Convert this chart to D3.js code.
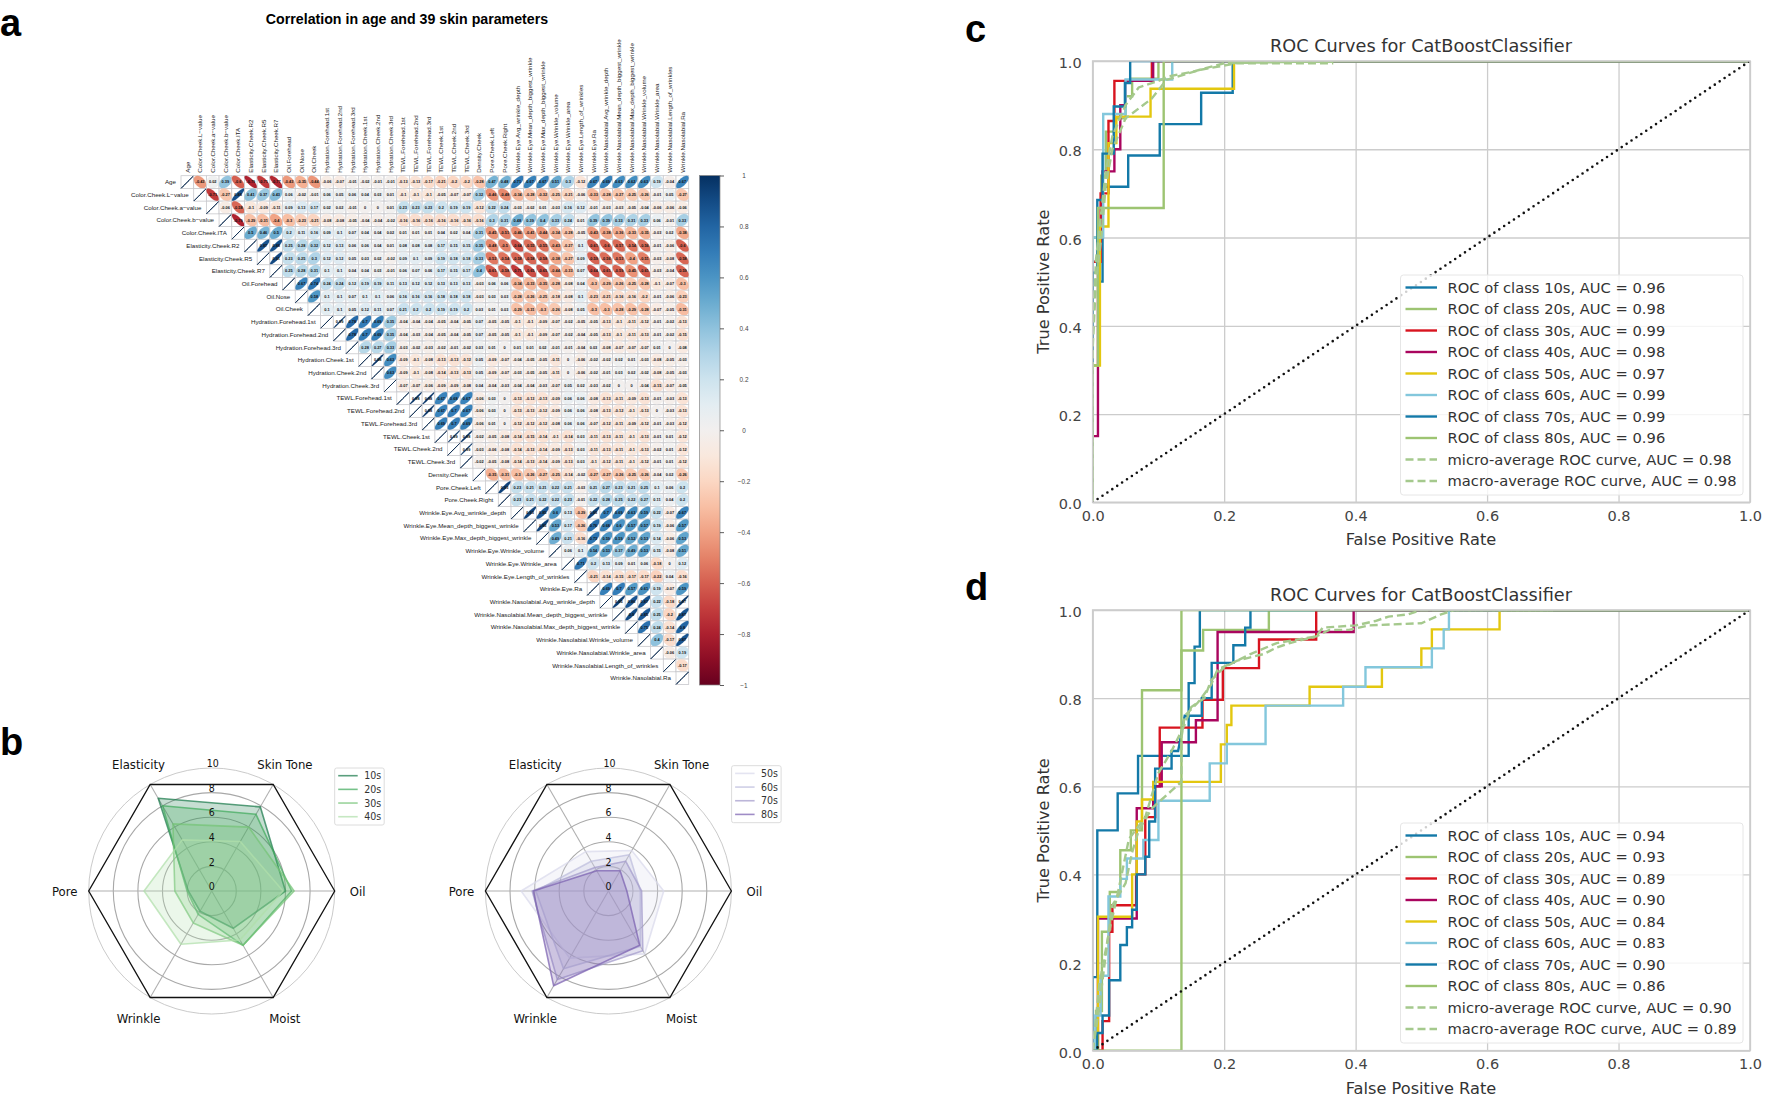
<!DOCTYPE html>
<html><head><meta charset="utf-8">
<script src="https://cdn.jsdelivr.net/npm/d3@7/dist/d3.min.js"></script>
<style>html,body{margin:0;padding:0;background:#fff}svg{display:block}</style>
</head><body><svg id="chart" width="1772" height="1107"></svg>
<script>
// ---------- Panel a: correlation matrix ----------
const corrNames = ["Age","Color.Cheek.L−value","Color.Cheek.a−value","Color.Cheek.b−value","Color.Cheek.ITA","Elasticity.Cheek.R2","Elasticity.Cheek.R5","Elasticity.Cheek.R7","Oil.Forehead","Oil.Nose","Oil.Cheek","Hydration.Forehead.1st","Hydration.Forehead.2nd","Hydration.Forehead.3rd","Hydration.Cheek.1st","Hydration.Cheek.2nd","Hydration.Cheek.3rd","TEWL.Forehead.1st","TEWL.Forehead.2nd","TEWL.Forehead.3rd","TEWL.Cheek.1st","TEWL.Cheek.2nd","TEWL.Cheek.3rd","Density.Cheek","Pore.Cheek.Left","Pore.Cheek.Right","Wrinkle.Eye.Avg_wrinkle_depth","Wrinkle.Eye.Mean_depth_biggest_wrinkle","Wrinkle.Eye.Max_depth_biggest_wrinkle","Wrinkle.Eye.Wrinkle_volume","Wrinkle.Eye.Wrinkle_area","Wrinkle.Eye.Length_of_wrinkles","Wrinkle.Eye.Ra","Wrinkle.Nasolabial.Avg_wrinkle_depth","Wrinkle.Nasolabial.Mean_depth_biggest_wrinkle","Wrinkle.Nasolabial.Max_depth_biggest_wrinkle","Wrinkle.Nasolabial.Wrinkle_volume","Wrinkle.Nasolabial.Wrinkle_area","Wrinkle.Nasolabial.Length_of_wrinkles","Wrinkle.Nasolabial.Ra"];
const corrUpper = [
[-.43,.02,.39,-.6,-.79,-.71,-.77,-.43,-.35,-.44,-.06,-.07,-.01,-.02,-.01,-.01,-.13,-.13,-.17,-.21,-.2,-.2,-.28,.47,.48,.71,.67,.67,.51,.3,-.12,.67,.69,.63,.62,.63,.19,-.04,.67],
[-.71,-.27,.88,.41,.37,.43,.06,-.02,-.01,.06,.05,.06,.04,.03,.01,-.1,-.1,-.1,-.05,-.07,-.07,.32,-.46,-.48,-.34,-.28,-.32,-.25,-.21,-.06,-.33,-.28,-.27,-.25,-.26,-.01,.05,-.27],
[-.06,-.58,-.1,-.09,-.11,.09,.13,.17,.02,.02,-.01,0,0,.01,.23,.23,.23,.2,.19,.19,-.12,.22,.24,-.03,-.02,.01,-.03,.16,.12,-.01,-.03,-.03,-.05,-.04,-.06,-.06,-.06],
[-.79,-.29,-.31,-.4,-.3,-.23,-.21,-.08,-.08,-.05,-.04,-.04,-.02,-.16,-.16,-.16,-.16,-.16,-.16,-.16,.3,.31,.48,.39,.4,.33,.24,.01,.39,.39,.33,.31,.33,.06,-.01,.33],
[.5,.46,.5,.2,.11,.16,.09,.1,.07,.04,.04,.02,.01,.01,.01,.04,.02,.04,.31,-.45,-.51,-.46,-.41,-.44,-.34,-.28,-.05,-.43,-.38,-.36,-.33,-.35,-.03,.02,-.38],
[.87,.88,.25,.28,.32,.12,.13,.06,.06,.04,.01,.08,.08,.08,.17,.15,.15,.35,-.48,-.5,-.64,-.55,-.55,-.43,-.27,.1,-.61,-.6,-.57,-.54,-.56,-.01,-.06,-.6],
[.91,.23,.25,.3,.12,.12,.05,.03,.02,-.02,.09,.1,.09,.19,.18,.18,.33,-.53,-.54,-.58,-.58,-.58,-.38,-.27,.09,-.59,-.56,-.53,-.4,-.51,-.03,-.08,-.58],
[.25,.28,.31,.1,.1,.04,.04,.03,-.01,.06,.07,.06,.17,.15,.17,.4,-.61,-.58,-.71,-.65,-.65,-.44,-.33,.07,-.64,-.61,-.59,-.45,-.61,-.03,-.04,-.59],
[.67,.74,.24,.24,.12,.19,.19,.11,.13,.12,.12,.13,.13,.13,-.03,.06,.06,-.34,-.33,-.35,-.28,-.08,.04,-.3,-.29,-.26,-.25,-.28,-.1,-.07,-.3],
[.58,.1,.1,.07,.1,.1,.06,.16,.16,.16,.18,.18,.18,-.03,.03,.03,-.28,-.26,-.25,-.18,-.08,.1,-.23,-.21,-.16,-.16,-.2,-.01,-.06,-.23],
[.1,.1,.05,.12,.11,.07,.21,.2,.2,.19,.19,.2,.03,.01,.03,-.29,-.31,-.3,-.26,-.08,.05,-.3,-.3,-.28,-.29,-.28,-.07,-.05,-.31],
[.99,.78,.7,.69,.35,-.04,-.04,-.04,-.05,-.04,-.05,.07,-.05,-.05,-.1,-.1,-.09,-.07,-.02,-.05,-.05,-.13,-.1,-.11,-.12,-.01,-.02,-.13],
[.78,.7,.69,.35,-.04,-.03,-.04,-.05,-.04,-.05,.07,-.05,-.05,-.1,-.1,-.09,-.07,-.02,-.04,-.05,-.13,-.1,-.11,-.13,-.01,-.02,-.15],
[.28,.27,.33,-.03,-.02,-.03,-.02,-.01,-.02,.03,.01,0,.01,.01,.02,-.01,-.01,-.04,.03,-.08,-.07,-.07,-.07,.01,0,-.08],
[.98,.63,-.09,-.1,-.08,-.13,-.13,-.12,.05,-.09,-.07,-.04,-.05,-.05,-.11,0,-.06,-.02,-.02,.02,.01,-.03,-.08,-.05,-.03],
[.63,-.09,-.1,-.08,-.14,-.13,-.13,.05,-.09,-.07,-.03,-.05,-.05,-.11,0,-.06,-.02,-.01,.03,.02,-.02,-.08,-.05,-.03],
[-.07,-.07,-.06,-.09,-.09,-.08,.04,-.04,-.03,-.04,-.04,-.03,-.07,.05,.02,-.03,-.02,0,0,-.04,-.15,-.07,-.05],
[.98,.98,.67,.68,.67,-.06,.03,0,-.13,-.13,-.13,-.09,.06,.06,-.08,-.13,-.11,-.09,-.13,-.01,-.03,-.13],
[.98,.67,.7,.67,-.06,.03,0,-.13,-.13,-.12,-.09,.06,.06,-.08,-.13,-.12,-.1,-.13,0,-.03,-.13],
[.69,.7,.69,-.06,.01,0,-.12,-.12,-.12,-.08,.06,.06,-.07,-.12,-.11,-.09,-.12,-.01,-.03,-.12],
[.99,.98,-.02,-.05,-.08,-.14,-.15,-.14,-.1,-.14,.03,-.11,-.13,-.11,-.1,-.13,-.01,.01,-.12],
[.99,-.03,-.06,-.08,-.14,-.13,-.14,-.09,-.13,.03,-.11,-.13,-.11,-.1,-.13,-.02,.01,-.12],
[-.02,-.05,-.08,-.14,-.13,-.14,-.09,-.13,.03,-.1,-.12,-.11,-.1,-.12,-.01,.01,-.12],
[-.35,-.31,-.3,-.26,-.27,-.25,-.14,-.02,-.27,-.27,-.26,-.25,-.26,-.04,.02,-.26],
[.93,.23,.21,.21,.22,.21,-.03,.21,.27,.23,.21,.25,.1,.06,.2],
[.23,.21,.22,.22,.23,-.01,.22,.28,.25,.22,.27,.11,.04,.2],
[.93,.85,.6,.13,-.29,.93,.7,.69,.63,.59,.22,-.07,.67],
[.93,.53,.17,-.26,.76,.68,.6,.57,.57,.19,-.06,.57],
[.49,.21,-.16,.73,.59,.59,.52,.53,.14,-.06,.53],
[.06,.1,.54,.53,.37,.49,.53,.15,-.08,.51],
[.71,.2,.13,.09,.01,.06,-.18,0,.12],
[-.21,-.14,-.15,-.17,-.17,-.22,.04,-.16],
[.69,.7,.57,.61,.19,-.07,.59],
[.95,.86,.87,.22,-.18,.97],
[.9,.85,.25,-.2,.87],
[.75,.24,-.14,.8],
[.4,-.17,.87],
[-.06,.19],
[-.17],
[]
];
const cbarTicks = [1,.8,.6,.4,.2,0,-.2,-.4,-.6,-.8,-1];

// ---------- Panel b: radar ----------
const radarAxes = ["Oil","Skin Tone","Elasticity","Pore","Wrinkle","Moist"];
const radarTicks = [0,2,4,6,8,10];
const radar10s = [6.0,7.9,8.7,1.9,1.9,3.5];
const radar20s = [6.5,7.2,8.0,2.0,2.2,5.1];
const radar30s = [6.7,6.0,6.3,3.0,3.0,5.1];
const radar40s = [5.8,4.65,4.8,5.5,5.0,4.6];
const radar50s = [4.5,3.8,3.7,7.1,6.3,5.9];
const radar60s = [2.6,3.4,2.8,5.9,7.3,5.2];
const radar70s = [2.7,2.8,2.2,6.2,8.3,5.6];
const radar80s = [1.5,1.9,1.9,6.1,8.9,5.1];
const radarLeftNames = ["10s","20s","30s","40s"];
const radarRightNames = ["50s","60s","70s","80s"];

// ---------- Panel c: ROC ----------
const c10s = [[0,0],[0,.5],[.015,.5],[.015,.715],[.054,.715],[.054,.786],[.102,.786],[.102,.857],[.165,.857],[.165,.928],[.213,.928],[.213,1],[1,1]];
const c20s = [[0,0],[0,.6],[.013,.6],[.013,.74],[.02,.74],[.02,.84],[.035,.84],[.035,.87],[.05,.87],[.05,.92],[.06,.92],[.06,.96],[.10,.96],[.10,1],[1,1]];
const c30s = [[0,0],[0,.545],[.012,.545],[.012,.70],[.024,.70],[.024,.864],[.033,.864],[.033,.955],[.09,.955],[.09,1],[1,1]];
const c40s = [[0,0],[0,.15],[.008,.15],[.008,.6],[.015,.6],[.015,.75],[.033,.75],[.033,.80],[.042,.80],[.042,.90],[.05,.90],[.05,.955],[.092,.955],[.092,1],[1,1]];
const c50s = [[0,0],[0,.31],[.011,.31],[.011,.625],[.024,.625],[.024,.814],[.036,.814],[.036,.874],[.088,.874],[.088,.937],[.215,.937],[.215,1],[1,1]];
const c60s = [[0,0],[0,.6],[.016,.6],[.016,.88],[.05,.88],[.05,.958],[.121,.958],[.121,1],[1,1]];
const c70s = [[0,0],[0,.52],[.007,.52],[.007,.685],[.015,.685],[.015,.79],[.032,.79],[.032,.897],[.049,.897],[.049,.95],[.057,.95],[.057,1],[1,1]];
const c80s = [[0,0],[0,.31],[.008,.31],[.008,.667],[.108,.667],[.108,1],[1,1]];
const cMicro = [[0,0],[0,.4],[.005,.55],[.02,.75],[.03,.83],[.05,.9],[.07,.94],[.10,.955],[.115,.965],[.15,.975],[.2,.995],[.3,.998],[.37,.998]];
const cMacro = [[0,0],[0,.35],[.005,.5],[.013,.6],[.02,.72],[.03,.8],[.05,.87],[.09,.915],[.112,.957],[.163,.98],[.22,.995],[.366,.995]];
const aucC = [.96,.98,.99,.98,.97,.99,.99,.96,.98,.98];

// ---------- Panel d: ROC ----------
const d10s = [[0,0],[0,.167],[.007,.167],[.007,.5],[.038,.5],[.038,.584],[.069,.584],[.069,.669],[.146,.669],[.146,.834],[.155,.834],[.155,.917],[.163,.917],[.163,1],[1,1]];
const d20s = [[0,0],[.005,0],[.005,.09],[.014,.09],[.014,.27],[.026,.27],[.026,.36],[.042,.36],[.042,.455],[.058,.455],[.058,.5],[.075,.5],[.075,.818],[.135,.818],[.135,.908],[.168,.908],[.168,.955],[.268,.955],[.268,1],[1,1]];
const d30s = [[0,0],[.015,0],[.015,.067],[.025,.067],[.025,.27],[.03,.27],[.03,.33],[.066,.33],[.066,.40],[.08,.40],[.08,.53],[.095,.53],[.095,.60],[.102,.60],[.102,.733],[.167,.733],[.167,.796],[.198,.796],[.198,.868],[.253,.868],[.253,.933],[.34,.933],[.34,1],[1,1]];
const d40s = [[0,0],[.008,0],[.008,.07],[.008,.30],[.067,.30],[.067,.55],[.092,.55],[.092,.60],[.105,.60],[.105,.70],[.157,.70],[.157,.75],[.19,.75],[.19,.95],[.397,.95],[.397,1],[1,1]];
const d50s = [[0,0],[.008,0],[.008,.304],[.06,.304],[.06,.40],[.067,.40],[.067,.52],[.075,.52],[.075,.57],[.092,.57],[.092,.61],[.195,.61],[.195,.695],[.204,.695],[.204,.739],[.211,.739],[.211,.783],[.33,.783],[.33,.826],[.44,.826],[.44,.87],[.50,.87],[.50,.913],[.516,.913],[.516,.956],[.619,.956],[.619,1],[1,1]];
const d60s = [[0,0],[.004,0],[.004,.08],[.012,.08],[.012,.17],[.024,.17],[.024,.35],[.042,.35],[.042,.39],[.052,.39],[.052,.436],[.077,.436],[.077,.478],[.10,.478],[.10,.567],[.178,.567],[.178,.652],[.204,.652],[.204,.696],[.263,.696],[.263,.783],[.381,.783],[.381,.826],[.415,.826],[.415,.87],[.516,.87],[.516,.913],[.534,.913],[.534,.956],[.542,.956],[.542,1],[1,1]];
const d70s = [[0,0],[.007,0],[.007,.04],[.015,.04],[.015,.08],[.025,.08],[.025,.16],[.042,.16],[.042,.24],[.052,.24],[.052,.28],[.06,.28],[.06,.32],[.067,.32],[.067,.40],[.08,.40],[.08,.44],[.086,.44],[.086,.52],[.095,.52],[.095,.64],[.12,.64],[.12,.68],[.13,.68],[.14,.76],[.166,.76],[.166,.80],[.181,.80],[.181,.88],[.214,.88],[.214,.92],[.232,.92],[.232,.96],[.24,.96],[.24,1],[1,1]];
const d80s = [[0,0],[.135,0],[.135,1],[1,1]];
const dMicro = [[0,0],[.01,.15],[.025,.27],[.04,.37],[.055,.48],[.08,.53],[.1,.63],[.12,.68],[.14,.74],[.15,.78],[.17,.80],[.18,.84],[.2,.87],[.24,.90],[.28,.925],[.34,.94],[.35,.96],[.4,.965],[.43,.975],[.45,.985],[.48,.99],[.5,1],[.7,1]];
const dMacro = [[0,0],[.01,.1],[.02,.22],[.03,.33],[.05,.38],[.06,.45],[.07,.5],[.09,.55],[.105,.57],[.12,.59],[.135,.61],[.135,.71],[.14,.76],[.16,.79],[.18,.83],[.19,.865],[.22,.885],[.26,.90],[.28,.915],[.3,.925],[.34,.94],[.36,.955],[.39,.955],[.42,.965],[.5,.97],[.53,.99],[.55,1],[.7,1]];
const aucD = [.94,.93,.89,.90,.84,.83,.90,.86,.90,.89];
const rocClasses = ["10s","20s","30s","40s","50s","60s","70s","80s"];
const rocTicks = [0,.2,.4,.6,.8,1];

// ---------- drawing ----------
const svg = d3.select("#chart");
const defs = svg.append("defs");
const SANS = "'Liberation Sans', Arial, sans-serif";
const DJ = "'DejaVu Sans', sans-serif";
const DJC = "'DejaVu Sans Condensed', 'DejaVu Sans', sans-serif";

function panelLetter(t,x,y){ svg.append("text").attr("x",x).attr("y",y).text(t).attr("font-family",SANS).attr("font-weight",700).attr("font-size",38).attr("fill","#000"); }
panelLetter("a",0,36); panelLetter("b",0,755); panelLetter("c",965,42); panelLetter("d",965,600);

svg.append("text").attr("x",407).attr("y",24).attr("text-anchor","middle").text("Correlation in age and 39 skin parameters")
  .attr("font-family",SANS).attr("font-weight",700).attr("font-size",14.2).attr("fill","#000");

// Heatmap
(function(){
  const n = corrNames.length;
  const xs = d3.scaleLinear().domain([0,n]).range([181,688.7]);
  const ys = d3.scaleLinear().domain([0,n]).range([175.7,684.5]);
  const g = svg.append("g");
  const color = v => d3.interpolateRdBu((v+1)/2);
  const ts = d3.range(0,6.2832,0.2);
  const cells = [];
  corrNames.forEach((nm,i)=>{
    cells.push({i,j:i,v:1,diag:true});
    corrUpper[i].forEach((v,k)=>cells.push({i,j:i+k+1,v}));
    g.append("text").attr("x",xs(i)-5).attr("y",ys(i+.5)).attr("dy","0.35em").attr("text-anchor","end")
      .text(nm).attr("font-family",SANS).attr("font-size",6.2).attr("fill","#222");
    g.append("text").attr("transform",`translate(${xs(i+.5)},${ys(0)-3}) rotate(-90)`).attr("dy","0.35em")
      .text(nm).attr("font-family",SANS).attr("font-size",6.2).attr("fill","#222");
  });
  const w = xs(1)-xs(0), h = ys(1)-ys(0);
  const cg = g.selectAll("g.c").data(cells).join("g").attr("transform",d=>`translate(${xs(d.j)},${ys(d.i)})`);
  cg.append("rect").attr("width",w).attr("height",h).attr("fill","#fff").attr("stroke","#c8c8cc").attr("stroke-width",.8);
  cg.append("path").attr("d",d=>{
      const dd = Math.acos(Math.min(1,Math.max(-1,d.v)));
      const pts = ts.map(t=>[Math.cos(t+dd/2)*w*.49+w/2, -Math.cos(t-dd/2)*h*.49+h/2]);
      return d3.line().curve(d3.curveLinearClosed)(pts);
    }).attr("fill",d=>d.diag?"#0b2a4f":color(d.v))
      .attr("stroke",d=>d.diag?"#0b2a4f":color(d.v)).attr("stroke-width",d=>d.diag?.9:.2);
  cg.filter(d=>!d.diag).append("text").attr("x",w/2).attr("y",h/2).attr("dy","0.35em").attr("text-anchor","middle")
    .text(d=>String(d.v)).attr("font-family",SANS).attr("font-size",3.9).attr("font-weight",700).attr("fill","#111");

  // colour bar
  const cy = d3.scaleLinear().domain([1,-1]).range([175.5,685]);
  const lg = defs.append("linearGradient").attr("id","cb").attr("x1",0).attr("x2",0).attr("y1",0).attr("y2",1);
  d3.range(0,1.001,.05).forEach(t=>lg.append("stop").attr("offset",t).attr("stop-color",d3.interpolateRdBu(1-t)));
  svg.append("rect").attr("x",699.5).attr("y",cy(1)).attr("width",20.5).attr("height",cy(-1)-cy(1)).attr("fill","url(#cb)").attr("stroke","#888").attr("stroke-width",.7);
  const ax = svg.append("g").attr("transform","translate(720,0)").call(d3.axisRight(cy).tickValues(cbarTicks).tickSize(4).tickFormat(d=>d===0?"0":String(d).replace("-","−")));
  ax.select(".domain").remove();
  ax.selectAll("line").attr("stroke","#333").attr("stroke-width",.8);
  ax.selectAll("text").attr("x",24).attr("text-anchor","middle").attr("font-family",SANS).attr("font-size",6.4).attr("fill","#444");
})();

// Radar
function radar(cx,cy,series,names,colors,lx,ly,lh){
  const g = svg.append("g").attr("transform",`translate(${cx},${cy})`);
  const r = d3.scaleLinear().domain([0,10]).range([0,123]);
  const ang = d3.scaleLinear().domain([0,radarAxes.length]).range([0,2*Math.PI]);
  const pt = (v,i)=>[r(v)*Math.cos(ang(i)), -r(v)*Math.sin(ang(i))];
  g.selectAll("circle").data(radarTicks.slice(1)).join("circle").attr("r",d=>r(d)).attr("fill","none")
    .attr("stroke",d=>d==10?"#c4c4c4":"#a8a8a8").attr("stroke-width",d=>d==10?.9:1.1);
  radarAxes.forEach((a,i)=>{ const p=pt(10,i);
    g.append("line").attr("x2",p[0]).attr("y2",p[1]).attr("stroke","#b0b0b0").attr("stroke-width",1.1); });
  const closed = d3.line().curve(d3.curveLinearClosed);
  series.forEach((vals,k)=>{
    g.append("path").attr("d",closed(vals.map(pt))).attr("fill",colors[k]).attr("fill-opacity",.25)
      .attr("stroke",colors[k]).attr("stroke-opacity",.72).attr("stroke-width",1.6).attr("stroke-linejoin","round");
  });
  g.append("path").attr("d",closed(radarAxes.map((a,i)=>pt(10,i)))).attr("fill","none").attr("stroke","#111").attr("stroke-width",1.3);
  radarAxes.forEach((a,i)=>{
    const off = (i==0?[r(10)+23,0]:i==3?[-r(10)-24,0]:null);
    const p = pt(10,i);
    const x = off?off[0]:p[0]*1.19, y = off?0:(p[1]<0?-127:127);
    g.append("text").attr("x",x).attr("y",y).attr("dy","0.35em").attr("text-anchor","middle").text(a)
      .attr("font-family",DJC).attr("font-size",13).attr("fill","#111");
  });
  radarTicks.forEach(t=>g.append("text").attr("x",t==10?1:0).attr("y",-r(t)-4.5).attr("dy","0.35em").attr("text-anchor","middle")
    .text(t).attr("font-family",DJC).attr("font-size",10.5).attr("fill","#111"));
  const lg = svg.append("g").attr("transform",`translate(${lx},${ly})`);
  lg.append("rect").attr("width",49.5).attr("height",57).attr("rx",2).attr("fill","#fff").attr("stroke","#dcdcdc");
  names.forEach((nm,k)=>{
    const y = 7.7+k*lh;
    lg.append("line").attr("x1",3.5).attr("x2",23).attr("y1",y).attr("y2",y).attr("stroke",colors[k]).attr("stroke-opacity",.72).attr("stroke-width",1.6);
    lg.append("text").attr("x",29.5).attr("y",y).attr("dy","0.35em").text(nm).attr("font-family",DJC).attr("font-size",10.5).attr("fill","#333");
  });
}
radar(211.7,891,[radar10s,radar20s,radar30s,radar40s],radarLeftNames,["#1b7a4b","#41ab5d","#74c476","#b0dfaa"],334.7,768,13.67);
radar(608.4,891,[radar50s,radar60s,radar70s,radar80s],radarRightNames,["#dadaeb","#bcbddc","#a29acb","#7a5fb0"],731.6,765.7,13.67);

// ROC
const rocColors = ["#1379a8","#9dc472","#d8141f","#a9055e","#e3c70f","#83c7dc","#1379a8","#9dc472"];
const avgColor = "#a5c98d";
function roc(id,top,bottom,curves,micro,macro,auc,legendTop){
  const x = d3.scaleLinear().domain([0,1]).range([1092.7,1750]);
  const y = d3.scaleLinear().domain([0,1]).range([bottom,top]);
  const g = svg.append("g");
  defs.append("clipPath").attr("id",id).append("rect").attr("x",x(0)).attr("y",top).attr("width",x(1)-x(0)).attr("height",bottom-top);
  const style = (a)=>{ a.select(".domain").remove();
    a.selectAll("text").attr("font-family",DJ).attr("font-size",14.5).attr("fill","#444"); };
  const gx = g.append("g").attr("transform",`translate(0,${bottom})`).call(d3.axisBottom(x).tickValues(rocTicks).tickSize(-(bottom-top)).tickPadding(8).tickFormat(d3.format(".1f")));
  style(gx); gx.selectAll("line").attr("stroke","#cccccc").attr("stroke-width",1.3);
  const gy = g.append("g").attr("transform","translate(1092.7,0)").call(d3.axisLeft(y).tickValues(rocTicks).tickSize(-(x(1)-x(0))).tickPadding(11).tickFormat(d3.format(".1f")));
  style(gy); gy.selectAll("line").attr("stroke","#cccccc").attr("stroke-width",1.3);
  gy.selectAll("text").attr("dy","0.45em");
  const line = d3.line().x(d=>x(d[0])).y(d=>y(d[1]));
  const plot = g.append("g").attr("clip-path",`url(#${id})`);
  curves.forEach((c,k)=>plot.append("path").attr("d",line(c)).attr("fill","none").attr("stroke",rocColors[k]).attr("stroke-width",2.4));
  [micro,macro].forEach(c=>plot.append("path").attr("d",line(c)).attr("fill","none").attr("stroke",avgColor).attr("stroke-width",2.4).attr("stroke-dasharray","8 4"));
  plot.append("path").attr("d",line([[0,0],[1,1]])).attr("fill","none").attr("stroke","#111").attr("stroke-width",2.6).attr("stroke-linecap","round").attr("stroke-dasharray","0 5.9");
  g.append("rect").attr("x",x(0)).attr("y",top).attr("width",x(1)-x(0)).attr("height",bottom-top).attr("fill","none").attr("stroke","#cccccc").attr("stroke-width",1.6);
  g.append("text").attr("x",1421).attr("y",top-15).attr("dy","0.35em").attr("text-anchor","middle").text("ROC Curves for CatBoostClassifier").attr("font-family",DJ).attr("font-size",17.7).attr("fill","#333");
  g.append("text").attr("x",1421).attr("y",bottom+37.5).attr("dy","0.35em").attr("text-anchor","middle").text("False Positive Rate").attr("font-family",DJ).attr("font-size",16.2).attr("fill","#333");
  g.append("text").attr("transform",`translate(1043,${(top+bottom)/2}) rotate(-90)`).attr("dy","0.35em").attr("text-anchor","middle").text("True Positive Rate").attr("font-family",DJ).attr("font-size",16.2).attr("fill","#333");
  const lg = g.append("g").attr("transform",`translate(1400.5,${legendTop})`);
  lg.append("rect").attr("width",342.5).attr("height",220).attr("rx",3).attr("fill","#fff").attr("fill-opacity",.8).attr("stroke","#e6e6e6").attr("stroke-width",1);
  const labels = rocClasses.map((c,k)=>`ROC of class ${c}, AUC = ${auc[k].toFixed(2)}`)
     .concat([`micro-average ROC curve, AUC = ${auc[8].toFixed(2)}`,`macro-average ROC curve, AUC = ${auc[9].toFixed(2)}`]);
  labels.forEach((t,k)=>{
    const ly = 12.5+k*21.5;
    lg.append("line").attr("x1",5).attr("x2",36.5).attr("y1",ly).attr("y2",ly)
      .attr("stroke",k<8?rocColors[k]:avgColor).attr("stroke-width",2.4).attr("stroke-dasharray",k<8?null:"8 4");
    lg.append("text").attr("x",47).attr("y",ly).attr("dy","0.35em").text(t).attr("font-family",DJ).attr("font-size",14.7).attr("fill","#333");
  });
}
roc("clipC",61,502.3,[c10s,c20s,c30s,c40s,c50s,c60s,c70s,c80s],cMicro,cMacro,aucC,275);
roc("clipD",610,1050.7,[d10s,d20s,d30s,d40s,d50s,d60s,d70s,d80s],dMicro,dMacro,aucD,823);
</script></body></html>
